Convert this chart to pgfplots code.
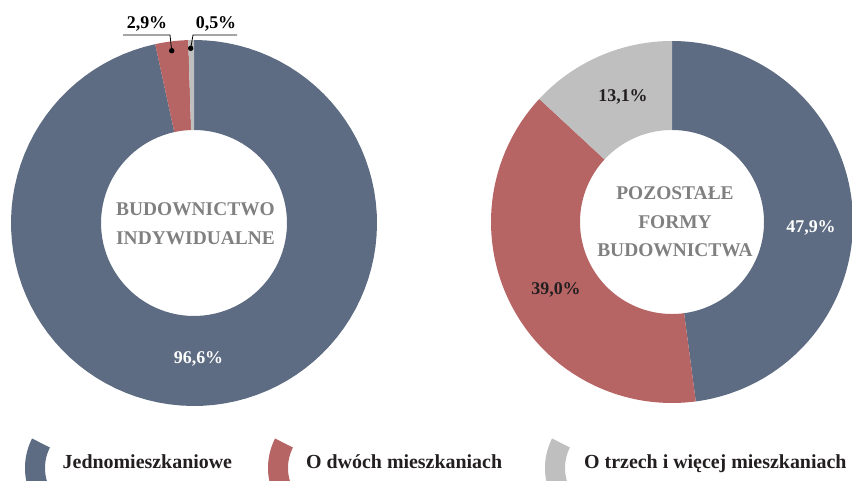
\documentclass[border=0pt]{standalone}
\usepackage{pgfplots}
\pgfplotsset{compat=1.18}
\usepackage{fontspec}
\setmainfont{Liberation Serif}
\definecolor{cBlue}{HTML}{5D6C82}
\definecolor{cRed}{HTML}{B76564}
\definecolor{cGrey}{HTML}{BFBFBF}
\definecolor{cText}{HTML}{808080}
\definecolor{cDark}{HTML}{231F20}
% data (percent)
\def\La{96.6}\def\Lb{2.9}\def\Lc{0.5}
\def\Ra{47.9}\def\Rb{39.0}\def\Rc{13.1}
% annulus sector: color, cx, cy, R, r, start angle, end angle
\newcommand{\sector}[7]{%
\addplot[fill=#1, draw=none, domain=0:3, samples=301, variable=\t]
 ({#2+((\t<1.0001)?(#4):((\t<2.0001)?(#4-(#4-#5)*(\t-1)):(#5)))*cos((\t<1.0001)?((#6)+((#7)-(#6))*\t):((\t<2.0001)?(#7):((#7)-((#7)-(#6))*(\t-2))))},
  {#3+((\t<1.0001)?(#4):((\t<2.0001)?(#4-(#4-#5)*(\t-1)):(#5)))*sin((\t<1.0001)?((#6)+((#7)-(#6))*\t):((\t<2.0001)?(#7):((#7)-((#7)-(#6))*(\t-2))))});
}
\begin{document}
\begin{tikzpicture}
\begin{axis}[
  width=852bp, height=481bp, scale only axis,
  xmin=0, xmax=852, ymin=0, ymax=481,
  hide axis, clip=true,
]
% left donut
\sector{cBlue}{194}{258}{183}{93}{90}{90-3.6*\La}
\sector{cRed}{194}{258}{183}{93}{90-3.6*\La}{90-3.6*(\La+\Lb)}
\sector{cGrey}{194}{258}{183}{93}{90-3.6*(\La+\Lb)}{90-3.6*(\La+\Lb+\Lc)}
% right donut
\sector{cBlue}{672}{259}{181}{92}{90}{90-3.6*\Ra}
\sector{cRed}{672}{259}{181}{92}{90-3.6*\Ra}{90-3.6*(\Ra+\Rb)}
\sector{cGrey}{672}{259}{181}{92}{90-3.6*(\Ra+\Rb)}{90-3.6*(\Ra+\Rb+\Rc)}
% legend icons
\sector{cBlue}{90}{13}{65}{45}{153}{205}
\sector{cRed}{333}{13}{65}{45}{153}{205}
\sector{cGrey}{610}{13}{65}{45}{153}{205}
% leader lines
\addplot[black, line width=0.8pt, mark=*, mark size=2.3pt, mark indices={3}] coordinates {(123,446) (170,446) (171.7,430.3)};
\addplot[black, line width=0.8pt, mark=*, mark size=2.3pt, mark indices={3}] coordinates {(237,446) (193,446) (190.7,432.7)};
% labels
\begin{scope}[every node/.style={font=\fontsize{18}{21}\selectfont\bfseries, anchor=base, inner sep=0pt}]
\node[white] at (axis cs:198.5,117) {96,6\%};
\node[black] at (axis cs:147,452.7) {2,9\%};
\node[black] at (axis cs:216,452.7) {0,5\%};
\node[white] at (axis cs:811,248) {47,9\%};
\node[cDark] at (axis cs:556,186.7) {39,0\%};
\node[cDark] at (axis cs:623,379.3) {13,1\%};
\end{scope}
\begin{scope}[every node/.style={font=\fontsize{19.5}{22}\selectfont\bfseries, anchor=base, inner sep=0pt, text=cText}]
\node at (axis cs:195.5,265) {BUDOWNICTWO};
\node at (axis cs:195.5,236) {INDYWIDUALNE};
\node at (axis cs:675,281) {POZOSTAŁE};
\node at (axis cs:675,252) {FORMY};
\node at (axis cs:675,224) {BUDOWNICTWA};
\end{scope}
\begin{scope}[every node/.style={font=\fontsize{20}{24}\selectfont\bfseries, anchor=base west, inner sep=0pt, text=cDark}]
\node at (axis cs:62.5,12) {Jednomieszkaniowe};
\node at (axis cs:306,12) {O dwóch mieszkaniach};
\node at (axis cs:584,12) {O trzech i więcej mieszkaniach};
\end{scope}
\end{axis}
\path (current axis.south west) rectangle (current axis.north east);
\end{tikzpicture}
\end{document}
